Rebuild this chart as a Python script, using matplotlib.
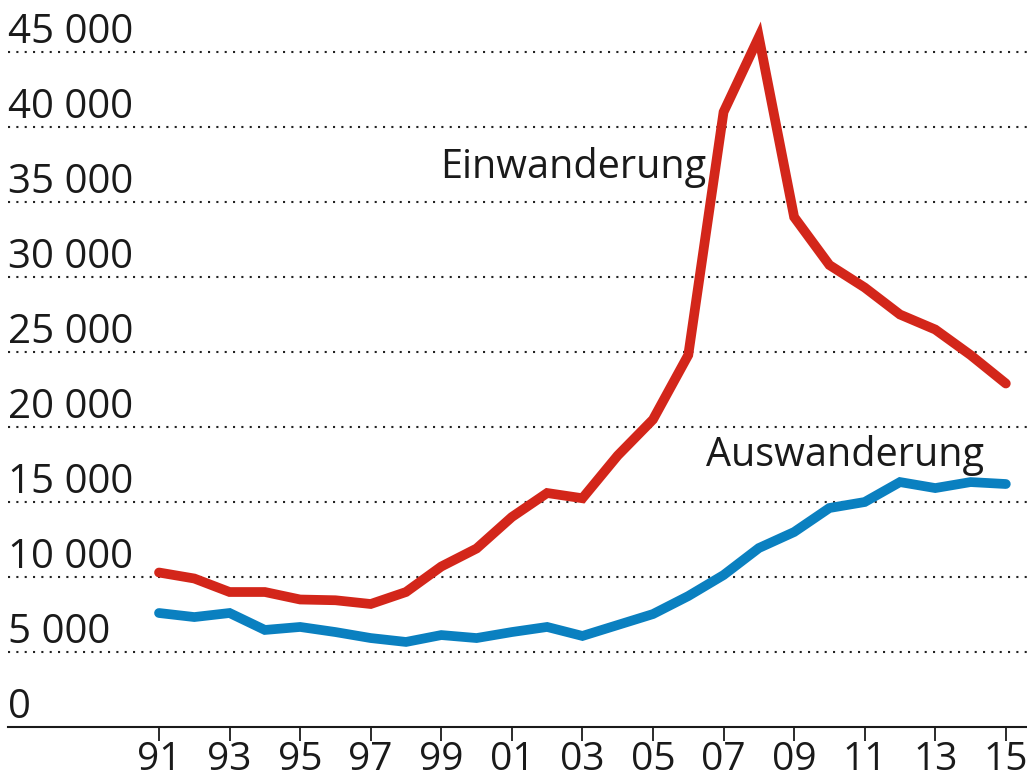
import matplotlib.pyplot as plt
from matplotlib.transforms import blended_transform_factory

plt.rcParams["font.family"] = ["Open Sans", "DejaVu Sans"]

# Zu- und Abwanderung, 1991-2015
years = list(range(1991, 2016))
einwanderung = [10300, 9900, 9000, 9000, 8500, 8450, 8200, 9000, 10700, 11900,
                14000, 15600, 15250, 18100, 20500, 24800, 41000, 46000, 34000,
                30800, 29300, 27500, 26500, 24800, 22900]
auswanderung = [7600, 7330, 7600, 6470, 6670, 6330, 5930, 5670, 6130, 5930,
                6330, 6670, 6070, 6800, 7530, 8730, 10130, 11930, 13000,
                14600, 15000, 16330, 15930, 16330, 16200]
y_ticks = list(range(0, 45001, 5000))
x_ticks = list(range(1991, 2016, 2))
x_labels = [f"{y % 100:02d}" for y in x_ticks]

RED = "#d3261a"
BLUE = "#0a80c0"

fig = plt.figure(figsize=(10.27, 7.77), dpi=100)
ax = fig.add_axes([8 / 1027, 50 / 777, 1 - 8 / 1027, 727 / 777])

ax.set_xlim(1986.72, 2015.6)
ax.set_ylim(0, 48470)

# dotted grid lines
for v in y_ticks[1:]:
    ax.axhline(v, color="#222222", lw=1.5, linestyle=(0, (1, 3)), zorder=1)

ax.plot(years, einwanderung, color=RED, lw=7, solid_joinstyle="miter",
        solid_capstyle="round", zorder=3)
ax.plot(years, auswanderung, color=BLUE, lw=7, solid_joinstyle="miter",
        solid_capstyle="round", zorder=3)

# y labels sit above the grid lines
trans = blended_transform_factory(ax.transAxes, ax.transData)
for v in y_ticks:
    label = f"{v:,}".replace(",", " ")
    ax.annotate(label, xy=(0, v), xycoords=trans, xytext=(0, 6.5),
                textcoords="offset points", ha="left", va="baseline",
                fontsize=29, color="#1a1a1a")

ax.text(1998.96, 37300, "Einwanderung", fontsize=28.5, color="#1a1a1a",
        ha="left", va="center")
ax.text(2006.49, 18130, "Auswanderung", fontsize=28.5, color="#1a1a1a",
        ha="left", va="center")

for s in ["top", "right", "left"]:
    ax.spines[s].set_visible(False)
ax.spines["bottom"].set_linewidth(1.5)
ax.spines["bottom"].set_color("#1a1a1a")

ax.set_yticks([])
ax.set_xticks(x_ticks)
ax.set_xticklabels(x_labels)
ax.tick_params(axis="x", direction="out", length=10, width=1.3,
               labelsize=28, pad=0, colors="#1a1a1a")

fig.savefig("out.png", dpi=100)
